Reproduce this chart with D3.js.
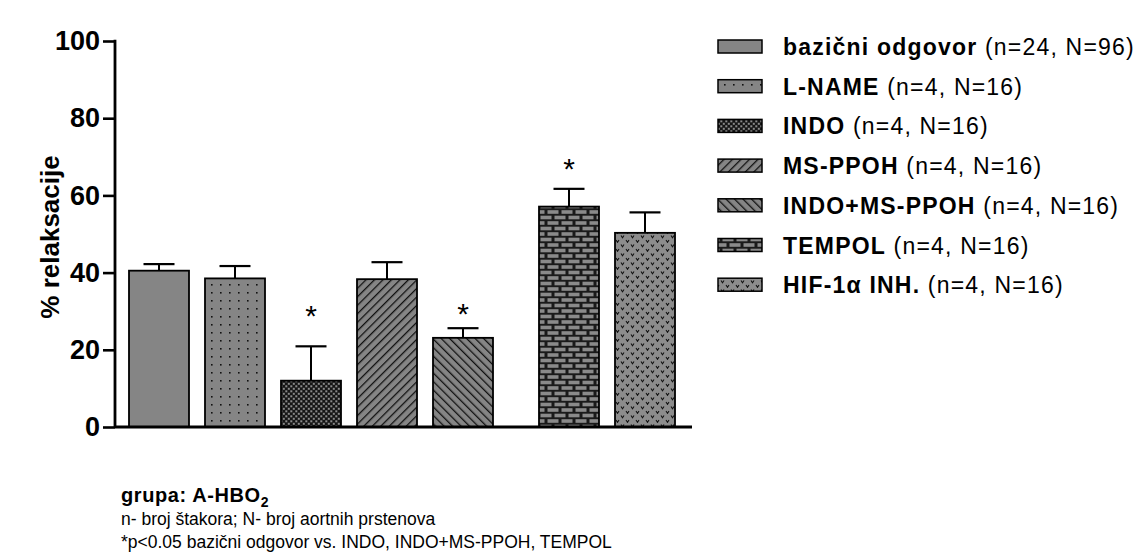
<!DOCTYPE html>
<html><head><meta charset="utf-8">
<script src="https://cdn.jsdelivr.net/npm/d3@7"></script>
<style>body{margin:0;background:#fff;} svg{display:block;font-family:"Liberation Sans",Arial,sans-serif;}</style>
</head><body>
<script>
const categories = ["bazični odgovor","L-NAME","INDO","MS-PPOH","INDO+MS-PPOH","TEMPOL","HIF-1α INH."];
const groupOf = [0,0,0,0,0,1,1];
const means = [40.5, 38.5, 12.0, 38.3, 23.1, 57.1, 50.3];
const sems  = [1.7, 3.2, 8.9, 4.4, 2.5, 4.6, 5.3];
const starLevel = [null, null, 30.4, null, 30.8, 68.5, null];
const legendBold = ["bazični odgovor","L-NAME","INDO","MS-PPOH","INDO+MS-PPOH","TEMPOL","HIF-1α INH."];
const legendRest = ["(n=24, N=96)","(n=4, N=16)","(n=4, N=16)","(n=4, N=16)","(n=4, N=16)","(n=4, N=16)","(n=4, N=16)"];
const yTicks = [0,20,40,60,80,100];
const patterns = ["solid","dots","checker","diagUp","diagDown","brick","hif"];

const W=1147,H=556;
const svg=d3.select("body").append("svg").attr("width",W).attr("height",H);
const defs=svg.append("defs");
const GRAY="#858585";
function pat(id,w,h,tr){const p=defs.append("pattern").attr("id",id).attr("patternUnits","userSpaceOnUse").attr("width",w).attr("height",h);if(tr)p.attr("patternTransform",tr);return p;}
pat("solid",10,10).append("rect").attr("width",10).attr("height",10).attr("fill",GRAY);
{const p=pat("dots",9,8);p.append("rect").attr("width",9).attr("height",8).attr("fill",GRAY);p.append("rect").attr("x",4).attr("y",4).attr("width",1.6).attr("height",1.6).attr("fill","#111");}
{const p=pat("checker",5,5);p.append("rect").attr("width",5).attr("height",5).attr("fill","#151515");p.append("rect").attr("x",0.3).attr("y",0.3).attr("width",2).attr("height",2).attr("fill","#8a8a8a");p.append("rect").attr("x",2.8).attr("y",2.8).attr("width",2).attr("height",2).attr("fill","#8a8a8a");}
{const p=pat("diagUp",6,6,"rotate(45)");p.append("rect").attr("width",6).attr("height",6).attr("fill",GRAY);p.append("line").attr("x1",0).attr("x2",0).attr("y1",0).attr("y2",6).attr("stroke","#111").attr("stroke-width",2.6);}
{const p=pat("diagDown",6,6,"rotate(-45)");p.append("rect").attr("width",6).attr("height",6).attr("fill",GRAY);p.append("line").attr("x1",0).attr("x2",0).attr("y1",0).attr("y2",6).attr("stroke","#111").attr("stroke-width",2.6);}
{const p=pat("brick",14,11);p.append("rect").attr("width",14).attr("height",11).attr("fill","#1a1a1a");
 p.append("rect").attr("x",1.5).attr("y",1.2).attr("width",11).attr("height",3.6).attr("fill","#8a8a8a");
 p.append("rect").attr("x",-5.5).attr("y",6.7).attr("width",11).attr("height",3.6).attr("fill","#8a8a8a");
 p.append("rect").attr("x",8.5).attr("y",6.7).attr("width",11).attr("height",3.6).attr("fill","#8a8a8a");}
{const p=pat("hif",10,9);p.append("rect").attr("width",10).attr("height",9).attr("fill","#8c8c8c");
 p.append("path").attr("d","M1,1.5 L2.5,3.8 L4,1.5").attr("fill","none").attr("stroke","#111").attr("stroke-width",1.1);
 p.append("path").attr("d","M6,6 L7.5,8.3 L9,6").attr("fill","none").attr("stroke","#111").attr("stroke-width",1.1);}

const axX=115, y0=427, y100=41, xEnd=692;
const y=d3.scaleLinear().domain([0,100]).range([y0,y100]);
const groupGap=30, step=76, bw=60, x0=129;
const xb=d3.scaleBand().domain(categories).range([x0,x0+step*(categories.length-1)+bw]).paddingInner(1-bw/step).paddingOuter(0).align(0);
const bx=(c,i)=>xb(c)+(groupOf[i]?groupGap:0);

const yAxis=d3.axisLeft(y).tickValues(yTicks).tickSize(12).tickPadding(3);
const ga=svg.append("g").attr("transform",`translate(${axX},0)`).call(yAxis);
ga.select(".domain").remove();
ga.selectAll(".tick line").attr("stroke","#000").attr("stroke-width",2.6);
ga.selectAll(".tick text").attr("font-size",27).attr("font-weight","bold").attr("fill","#000");
svg.append("line").attr("x1",axX).attr("x2",axX).attr("y1",y100-1.3).attr("y2",y0).attr("stroke","#000").attr("stroke-width",2.8);
svg.append("text").attr("transform",`translate(59,${(y0+y100)/2+3}) rotate(-90)`).attr("text-anchor","middle").attr("font-size",26).attr("font-weight","bold").text("% relaksacije");

const bars=svg.append("g");
categories.forEach((c,i)=>{
  const w=xb.bandwidth();
  const x=bx(c,i), cx=x+w/2;
  const top=y(means[i]), et=y(means[i]+sems[i]);
  bars.append("line").attr("x1",cx).attr("x2",cx).attr("y1",top).attr("y2",et).attr("stroke","#000").attr("stroke-width",2);
  bars.append("line").attr("x1",cx-15.5).attr("x2",cx+15.5).attr("y1",et).attr("y2",et).attr("stroke","#000").attr("stroke-width",2.2);
  bars.append("rect").attr("x",x).attr("y",top).attr("width",w).attr("height",y0-top).attr("fill",`url(#${patterns[i]})`).attr("stroke","#000").attr("stroke-width",1.8);
  if(starLevel[i]!=null) bars.append("text").attr("x",cx).attr("y",y(starLevel[i])+16).attr("text-anchor","middle").attr("font-size",30).attr("fill","#000").text("*");
});
svg.append("line").attr("x1",axX).attr("x2",xEnd).attr("y1",y0).attr("y2",y0).attr("stroke","#000").attr("stroke-width",3);

const lg=svg.append("g");
categories.forEach((c,i)=>{
  const ly=47+i*39.7;
  lg.append("rect").attr("x",718).attr("y",ly-7).attr("width",44).attr("height",13).attr("fill",`url(#${patterns[i]})`).attr("stroke","#000").attr("stroke-width",1.5);
  const t=lg.append("text").attr("x",783).attr("y",ly+8).attr("font-size",23).attr("fill","#000").attr("letter-spacing",1.2);
  t.append("tspan").attr("font-weight","bold").text(legendBold[i]);
  t.append("tspan").text(" "+legendRest[i]);
});

const nt=svg.append("text").attr("x",121).attr("y",502).attr("font-size",20).attr("font-weight","bold").attr("letter-spacing",0.6);
nt.append("tspan").text("grupa: A-HBO");
nt.append("tspan").attr("font-size",14).attr("dy",5).text("2");
svg.append("text").attr("x",121).attr("y",525).attr("font-size",17.5).text("n- broj štakora; N- broj aortnih prstenova");
svg.append("text").attr("x",121).attr("y",548).attr("font-size",17.5).text("*p<0.05 bazični odgovor vs. INDO, INDO+MS-PPOH, TEMPOL");
</script>
</body></html>
